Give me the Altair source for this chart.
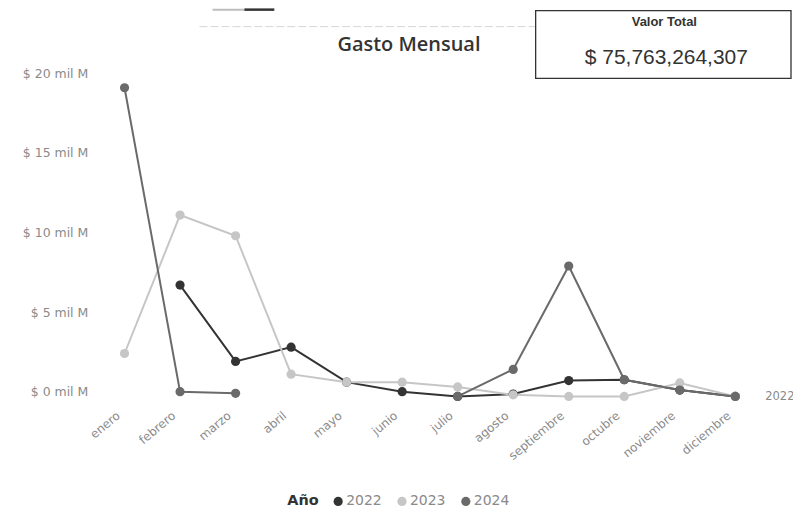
import altair as alt
import pandas as pd

meses = ["enero", "febrero", "marzo", "abril", "mayo", "junio", "julio",
         "agosto", "septiembre", "octubre", "noviembre", "diciembre"]
anios = ["2022", "2023", "2024"]
v2022 = [None, 6.7, 1.9, 2.8, 0.6, 0.0, -0.3, -0.15, 0.7, 0.75, 0.1, -0.3]
v2023 = [2.4, 11.1, 9.8, 1.1, 0.6, 0.6, 0.3, -0.2, -0.3, -0.3, 0.55, -0.3]
v2024 = [19.1, 0.0, -0.1, None, None, None, -0.3, 1.4, 7.9, 0.75, 0.1, -0.3]
colores = ["#333333", "#c6c6c6", "#6a6a6a"]
y_ticks = [0, 5, 10, 15, 20]
total_txt = "$ 75,763,264,307"

rows = []
for anio, serie in zip(anios, [v2022, v2023, v2024]):
    seg = 0
    prev_none = True
    for mes, v in zip(meses, serie):
        if v is None:
            prev_none = True
            continue
        if prev_none:
            seg += 1
            prev_none = False
        rows.append({"Mes": mes, "Año": anio, "Valor": v, "Tramo": f"{anio}-{seg}"})
df = pd.DataFrame(rows)
ultimo = df[(df["Año"] == "2022") & (df["Mes"] == "diciembre")]

FONT = "Open Sans"
WIDE = "DejaVu Sans"
x_enc = alt.X("Mes:N", sort=meses, title=None,
              scale=alt.Scale(paddingOuter=0.5),
              axis=alt.Axis(labelAngle=-40, labelColor="#8a8a8a", labelFontSize=12,
                            labelFont=WIDE, domain=False, ticks=False, labelPadding=10,
                            labelOffset=-10))
y_enc = alt.Y("Valor:Q", title=None,
              scale=alt.Scale(domain=[-0.5, 21], nice=False, zero=False),
              axis=alt.Axis(values=y_ticks, labelExpr="'$ ' + datum.value + ' mil M'",
                            labelColor="#8a8a8a", labelFontSize=12.5, labelFont=WIDE,
                            domain=False, ticks=False, grid=False, labelPadding=9))
color_scale = alt.Scale(domain=anios, range=colores)
leg = alt.Legend(orient="none", direction="horizontal",
                 legendX=191, legendY=438,
                 titleOrient="left", title="Año", titlePadding=12,
                 titleFont=WIDE, titleFontSize=14.5,
                 titleFontWeight="bold", titleColor="#333333",
                 labelFont=WIDE, labelFontSize=14, labelOffset=1,
                 labelColor="#8a8a8a", symbolType="circle",
                 symbolSize=85, columnPadding=13, symbolStrokeWidth=0)

base = alt.Chart(df)
lines = base.mark_line(strokeWidth=2).encode(
    x=x_enc, y=y_enc,
    color=alt.Color("Año:N", scale=color_scale, legend=leg),
    detail="Tramo:N")
points = base.mark_point(filled=True, size=85, opacity=1).encode(
    x=x_enc, y=y_enc,
    color=alt.Color("Año:N", scale=color_scale, legend=leg))
etiqueta = alt.Chart(ultimo).mark_text(align="left", dx=30, dy=1, fontSize=11.5,
                                       font=WIDE, color="#8a8a8a").encode(
    x=alt.X("Mes:N", sort=meses), y="Valor:Q", text="Año:N")

titulo = alt.Chart(pd.DataFrame({"t": ["Gasto Mensual"]})).mark_text(
    fontSize=20, fontWeight=600, font=FONT, color="#333333").encode(
    x=alt.value(313), y=alt.value(-13), text="t:N")

caja = alt.Chart(pd.DataFrame({"k": [1]})).mark_rect(
    fill="white", stroke="#333333", strokeWidth=1.3).encode(
    x=alt.value(440), x2=alt.value(696), y=alt.value(-47), y2=alt.value(21))
caja_t1 = alt.Chart(pd.DataFrame({"t": ["Valor Total"]})).mark_text(
    fontSize=13, fontWeight="bold", font="Liberation Sans", color="#333333").encode(
    x=alt.value(569), y=alt.value(-36), text="t:N")
caja_t2 = alt.Chart(pd.DataFrame({"t": [total_txt]})).mark_text(
    fontSize=21, font="Liberation Sans", color="#333333").encode(
    x=alt.value(571), y=alt.value(0), text="t:N")

linea_sup = alt.Chart(pd.DataFrame({"k": [1]})).mark_rule(
    color="#d6d6d6", strokeWidth=1, strokeDash=[8, 3]).encode(
    x=alt.value(103), x2=alt.value(440), y=alt.value(-31))
deco1 = alt.Chart(pd.DataFrame({"k": [1]})).mark_rule(
    color="#bdbdbd", strokeWidth=2).encode(
    x=alt.value(116), x2=alt.value(148), y=alt.value(-48))
deco2 = alt.Chart(pd.DataFrame({"k": [1]})).mark_rule(
    color="#333333", strokeWidth=2.5).encode(
    x=alt.value(148), x2=alt.value(178), y=alt.value(-48))

chart = alt.layer(linea_sup, deco1, deco2, lines, points, etiqueta, titulo,
                  caja, caja_t1, caja_t2).properties(
    width=668, height=343,
    autosize=alt.AutoSizeParams(type="none"),
    padding={"left": 89, "top": 49, "right": 30, "bottom": 113},
    background="white",
).configure_view(stroke=None)

chart.save("out.html", embed_options={"renderer": "svg", "actions": False})
